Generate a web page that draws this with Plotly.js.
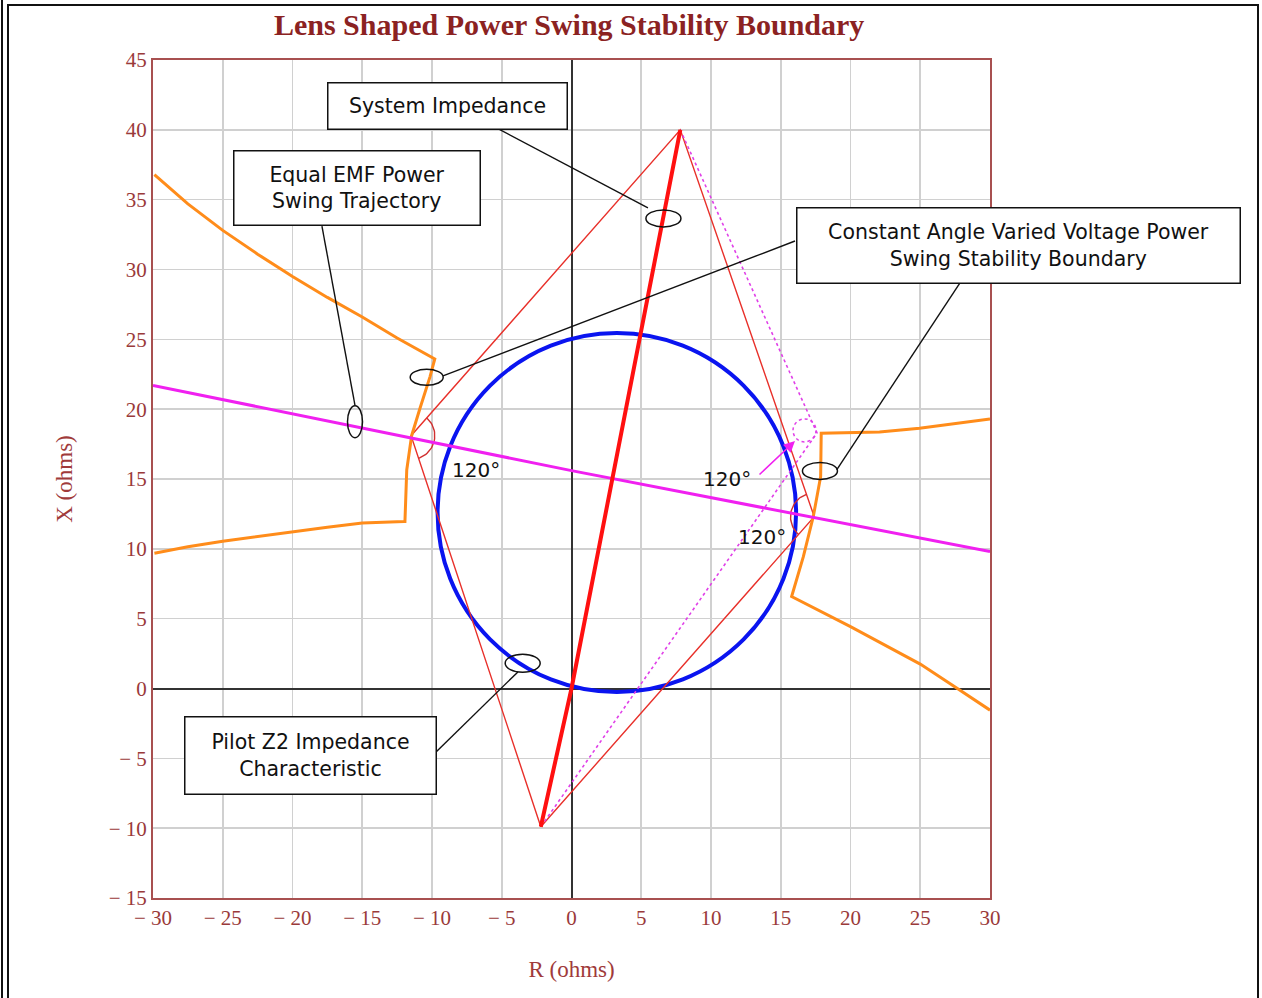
<!DOCTYPE html>
<html><head><meta charset="utf-8">
<script src="https://cdn.plot.ly/plotly-3.0.1.min.js"></script>
<style>
html,body{margin:0;padding:0;background:#fff;}
#chart{position:absolute;left:0;top:0;width:1262px;height:998px;}
.frame{position:absolute;background:#111;}
</style></head><body>
<div id="chart"></div>
<div class="frame" style="left:1px;top:0;width:2px;height:998px"></div>
<div class="frame" style="left:7px;top:4px;width:2px;height:994px"></div>
<div class="frame" style="left:7px;top:4px;width:1252px;height:2px"></div>
<div class="frame" style="left:1257px;top:4px;width:2px;height:994px"></div>
<script>
// ---- tick labels ----
const rTickVals = [-30, -25, -20, -15, -10, -5, 0, 5, 10, 15, 20, 25, 30];
const rTickText = ['\u2212 30', '\u2212 25', '\u2212 20', '\u2212 15', '\u2212 10', '\u2212 5', '0', '5', '10', '15', '20', '25', '30'];
const xTickVals = [-15, -10, -5, 0, 5, 10, 15, 20, 25, 30, 35, 40, 45];
const xTickText = ['\u2212 15', '\u2212 10', '\u2212 5', '0', '5', '10', '15', '20', '25', '30', '35', '40', '45'];

// ---- Equal EMF power swing trajectory (magenta) ----
const emfR = [-30, 0, 30];
const emfX = [21.7, 15.6, 9.8];

// ---- System impedance (source + line), thick red ----
const sysR = [-2.2, 0, 7.8];
const sysX = [-9.9, 0, 40.0];

// ---- Lens (120 deg) boundary, thin red ----
const lensR = [-2.2, -11.5, 7.8, 17.4, -2.2];
const lensX = [-9.9, 18.1, 40.0, 12.3, -9.9];

// ---- Lens for varied voltage, dotted magenta ----
const lensVarR = [7.8, 17.6, -2.2];
const lensVarX = [40.0, 18.3, -9.9];

// ---- Constant angle varied voltage boundary (orange) ----
const bndLeftR = [-29.9, -27.5, -25, -22.5, -20, -17.5, -15, -12.5, -9.8, -10.14, -10.86, -11.46, -11.81, -11.94,
                  -12.0, -15, -17.5, -20, -22.5, -25, -27.5, -29.9];
const bndLeftX = [36.8, 34.7, 32.8, 31.1, 29.5, 28.0, 26.6, 25.1, 23.6, 22.33, 20.07, 18.1, 15.65, 11.95,
                  11.95, 11.85, 11.55, 11.23, 10.9, 10.55, 10.15, 9.69];
const bndRightR = [30.0, 27.46, 24.95, 22.08, 19.93, 17.9, 17.86, 17.33, 16.62, 15.78, 20.0, 22.5, 25.0, 27.5, 30.0];
const bndRightX = [19.3, 18.94, 18.63, 18.37, 18.3, 18.27, 15.17, 12.3, 9.44, 6.58, 4.43, 3.1, 1.75, 0.1, -1.55];

// ---- Pilot Z2 impedance characteristic (circle) ----
const pilotCenter = [3.25, 12.6];
const pilotRadius = 12.85;

// ---- angle marker radius (ohms) ----
const angleMarkRadius = 1.7;

function arc(c, a, b, r) {
  let a1 = Math.atan2(a[1] - c[1], a[0] - c[0]);
  let a2 = Math.atan2(b[1] - c[1], b[0] - c[0]);
  let d = a2 - a1;
  while (d > Math.PI) d -= 2 * Math.PI;
  while (d < -Math.PI) d += 2 * Math.PI;
  const xs = [], ys = [];
  for (let i = 0; i <= 30; i++) {
    const t = a1 + d * i / 30;
    xs.push(c[0] + r * Math.cos(t));
    ys.push(c[1] + r * Math.sin(t));
  }
  return {x: xs, y: ys};
}
const L = [lensR[1], lensX[1]], T = [lensR[2], lensX[2]], RV = [lensR[3], lensX[3]], B = [lensR[0], lensX[0]];
const arcL = arc(L, T, B, angleMarkRadius);
const arcR = arc(RV, T, B, angleMarkRadius);

const base = {type: 'scatter', mode: 'lines', hoverinfo: 'skip', showlegend: false};
const traces = [
  Object.assign({}, base, {x: lensR, y: lensX, line: {color: '#E8302A', width: 1.4}}),
  Object.assign({}, base, {x: lensVarR, y: lensVarX, line: {color: '#E040E8', width: 1.6, dash: 'dot'}}),
  Object.assign({}, base, {x: arcL.x, y: arcL.y, line: {color: '#D03030', width: 1.4}}),
  Object.assign({}, base, {x: arcR.x, y: arcR.y, line: {color: '#D03030', width: 1.4}}),
  Object.assign({}, base, {x: bndLeftR, y: bndLeftX, line: {color: '#FF8C1A', width: 3}}),
  Object.assign({}, base, {x: bndRightR, y: bndRightX, line: {color: '#FF8C1A', width: 3}}),
  Object.assign({}, base, {x: emfR, y: emfX, line: {color: '#F020F0', width: 3}}),
  Object.assign({}, base, {x: sysR, y: sysX, line: {color: '#FF1010', width: 4}})
];

const black = '#111';
function ell(r, x, w, h) {
  return {type: 'circle', xref: 'x', yref: 'y', xsizemode: 'pixel', ysizemode: 'pixel',
    xanchor: r, yanchor: x, x0: -w / 2, x1: w / 2, y0: -h / 2, y1: h / 2,
    line: {color: black, width: 1.5}, layer: 'above'};
}
function seg(r0, x0, r1, x1) {
  return {type: 'line', xref: 'x', yref: 'y', x0: r0, y0: x0, x1: r1, y1: x1,
    line: {color: black, width: 1.4}, layer: 'above'};
}
const shapes = [
  {type: 'circle', xref: 'x', yref: 'y', layer: 'between',
   x0: pilotCenter[0] - pilotRadius, x1: pilotCenter[0] + pilotRadius,
   y0: pilotCenter[1] - pilotRadius, y1: pilotCenter[1] + pilotRadius,
   line: {color: '#0A14F0', width: 4}},
  {type: 'circle', xref: 'x', yref: 'y', xsizemode: 'pixel', ysizemode: 'pixel',
   xanchor: 17.6, yanchor: 18.3, x0: -24, x1: -1, y0: -9, y1: 14,
   line: {color: '#E040E8', width: 1.5, dash: 'dot'}, layer: 'above'},
  seg(-5.34, 40.12, 5.48, 34.42),
  seg(16.02, 32.04, -9.21, 22.38),
  seg(27.99, 29.25, 19.01, 15.65),
  seg(-17.89, 33.11, -15.52, 20.27),
  seg(-9.71, -4.54, -3.84, 1.19),
  ell(6.59, 33.66, 35, 17),
  ell(-10.38, 22.28, 33, 16),
  ell(17.81, 15.58, 35, 17),
  ell(-15.52, 19.1, 15, 32),
  ell(-3.5, 1.81, 35, 18)
];

const boxFont = {family: 'DejaVu Sans', size: 20.5, color: '#111'};
function box(text, px, py, w, h) {
  return {xref: 'paper', yref: 'paper', x: px, y: py, xanchor: 'center', yanchor: 'middle',
    text: text, showarrow: false, font: boxFont, bgcolor: '#fff', bordercolor: black,
    borderwidth: 1.5, borderpad: 0, width: w, height: h, align: 'center'};
}
function lbl(text, r, x) {
  return {xref: 'x', yref: 'y', x: r, y: x, text: text, showarrow: false,
    font: {family: 'DejaVu Sans', size: 20, color: '#111'}, xanchor: 'center', yanchor: 'middle'};
}
const annotations = [
  {xref: 'x', yref: 'y', axref: 'x', ayref: 'y', x: 16.02, y: 17.72, ax: 13.37, ay: 15.22,
   text: '', showarrow: true, arrowhead: 2, arrowsize: 1.4, arrowwidth: 1.6, arrowcolor: '#F020F0', standoff: 0},
  lbl('120\u00b0', -6.85, 15.65),
  lbl('120\u00b0', 11.15, 15.0),
  lbl('120\u00b0', 13.66, 10.85),
  box('System Impedance', 0.3513, 0.9457, 238, 45),
  box('Equal EMF Power<br>Swing Trajectory', 0.2443, 0.8467, 245, 73),
  box('Constant Angle Varied Voltage Power<br>Swing Stability Boundary', 1.0335, 0.7792, 442, 74),
  box('Pilot Z2 Impedance<br>Characteristic', 0.1876, 0.1706, 250, 76)
];

const tickFont = {family: 'Liberation Serif', size: 21, color: '#9A3A3A'};
const axTitleFont = {family: 'Liberation Serif', size: 23, color: '#A03A3A'};
const layout = {
  width: 1262, height: 998,
  margin: {l: 153, r: 272, t: 60, b: 100},
  paper_bgcolor: '#fff', plot_bgcolor: '#fff',
  showlegend: false, hovermode: false,
  title: {text: '<b>Lens Shaped Power Swing Stability Boundary</b>',
    font: {family: 'Liberation Serif', size: 30, color: '#8B2222'},
    xref: 'container', yref: 'container', x: 0.451, xanchor: 'center', y: 0.975, yanchor: 'middle'},
  xaxis: {range: [-30, 30], tickvals: rTickVals, ticktext: rTickText, tickfont: tickFont,
    showgrid: true, gridcolor: '#D0D0D0', gridwidth: 1.6,
    zeroline: true, zerolinecolor: '#333', zerolinewidth: 2,
    showline: true, linecolor: '#A85050', linewidth: 2, mirror: true, ticks: '',
    title: {text: 'R (ohms)', font: axTitleFont, standoff: 32}, fixedrange: true},
  yaxis: {range: [-15, 45], tickvals: xTickVals, ticktext: xTickText, tickfont: tickFont,
    showgrid: true, gridcolor: '#D0D0D0', gridwidth: 1.6,
    zeroline: true, zerolinecolor: '#333', zerolinewidth: 2,
    showline: true, linecolor: '#A85050', linewidth: 2, mirror: true, ticks: '',
    title: {text: 'X (ohms)', font: axTitleFont, standoff: 30}, fixedrange: true},
  shapes: shapes,
  annotations: annotations
};
Plotly.newPlot('chart', traces, layout, {displayModeBar: false, staticPlot: true});
</script>
</body></html>
